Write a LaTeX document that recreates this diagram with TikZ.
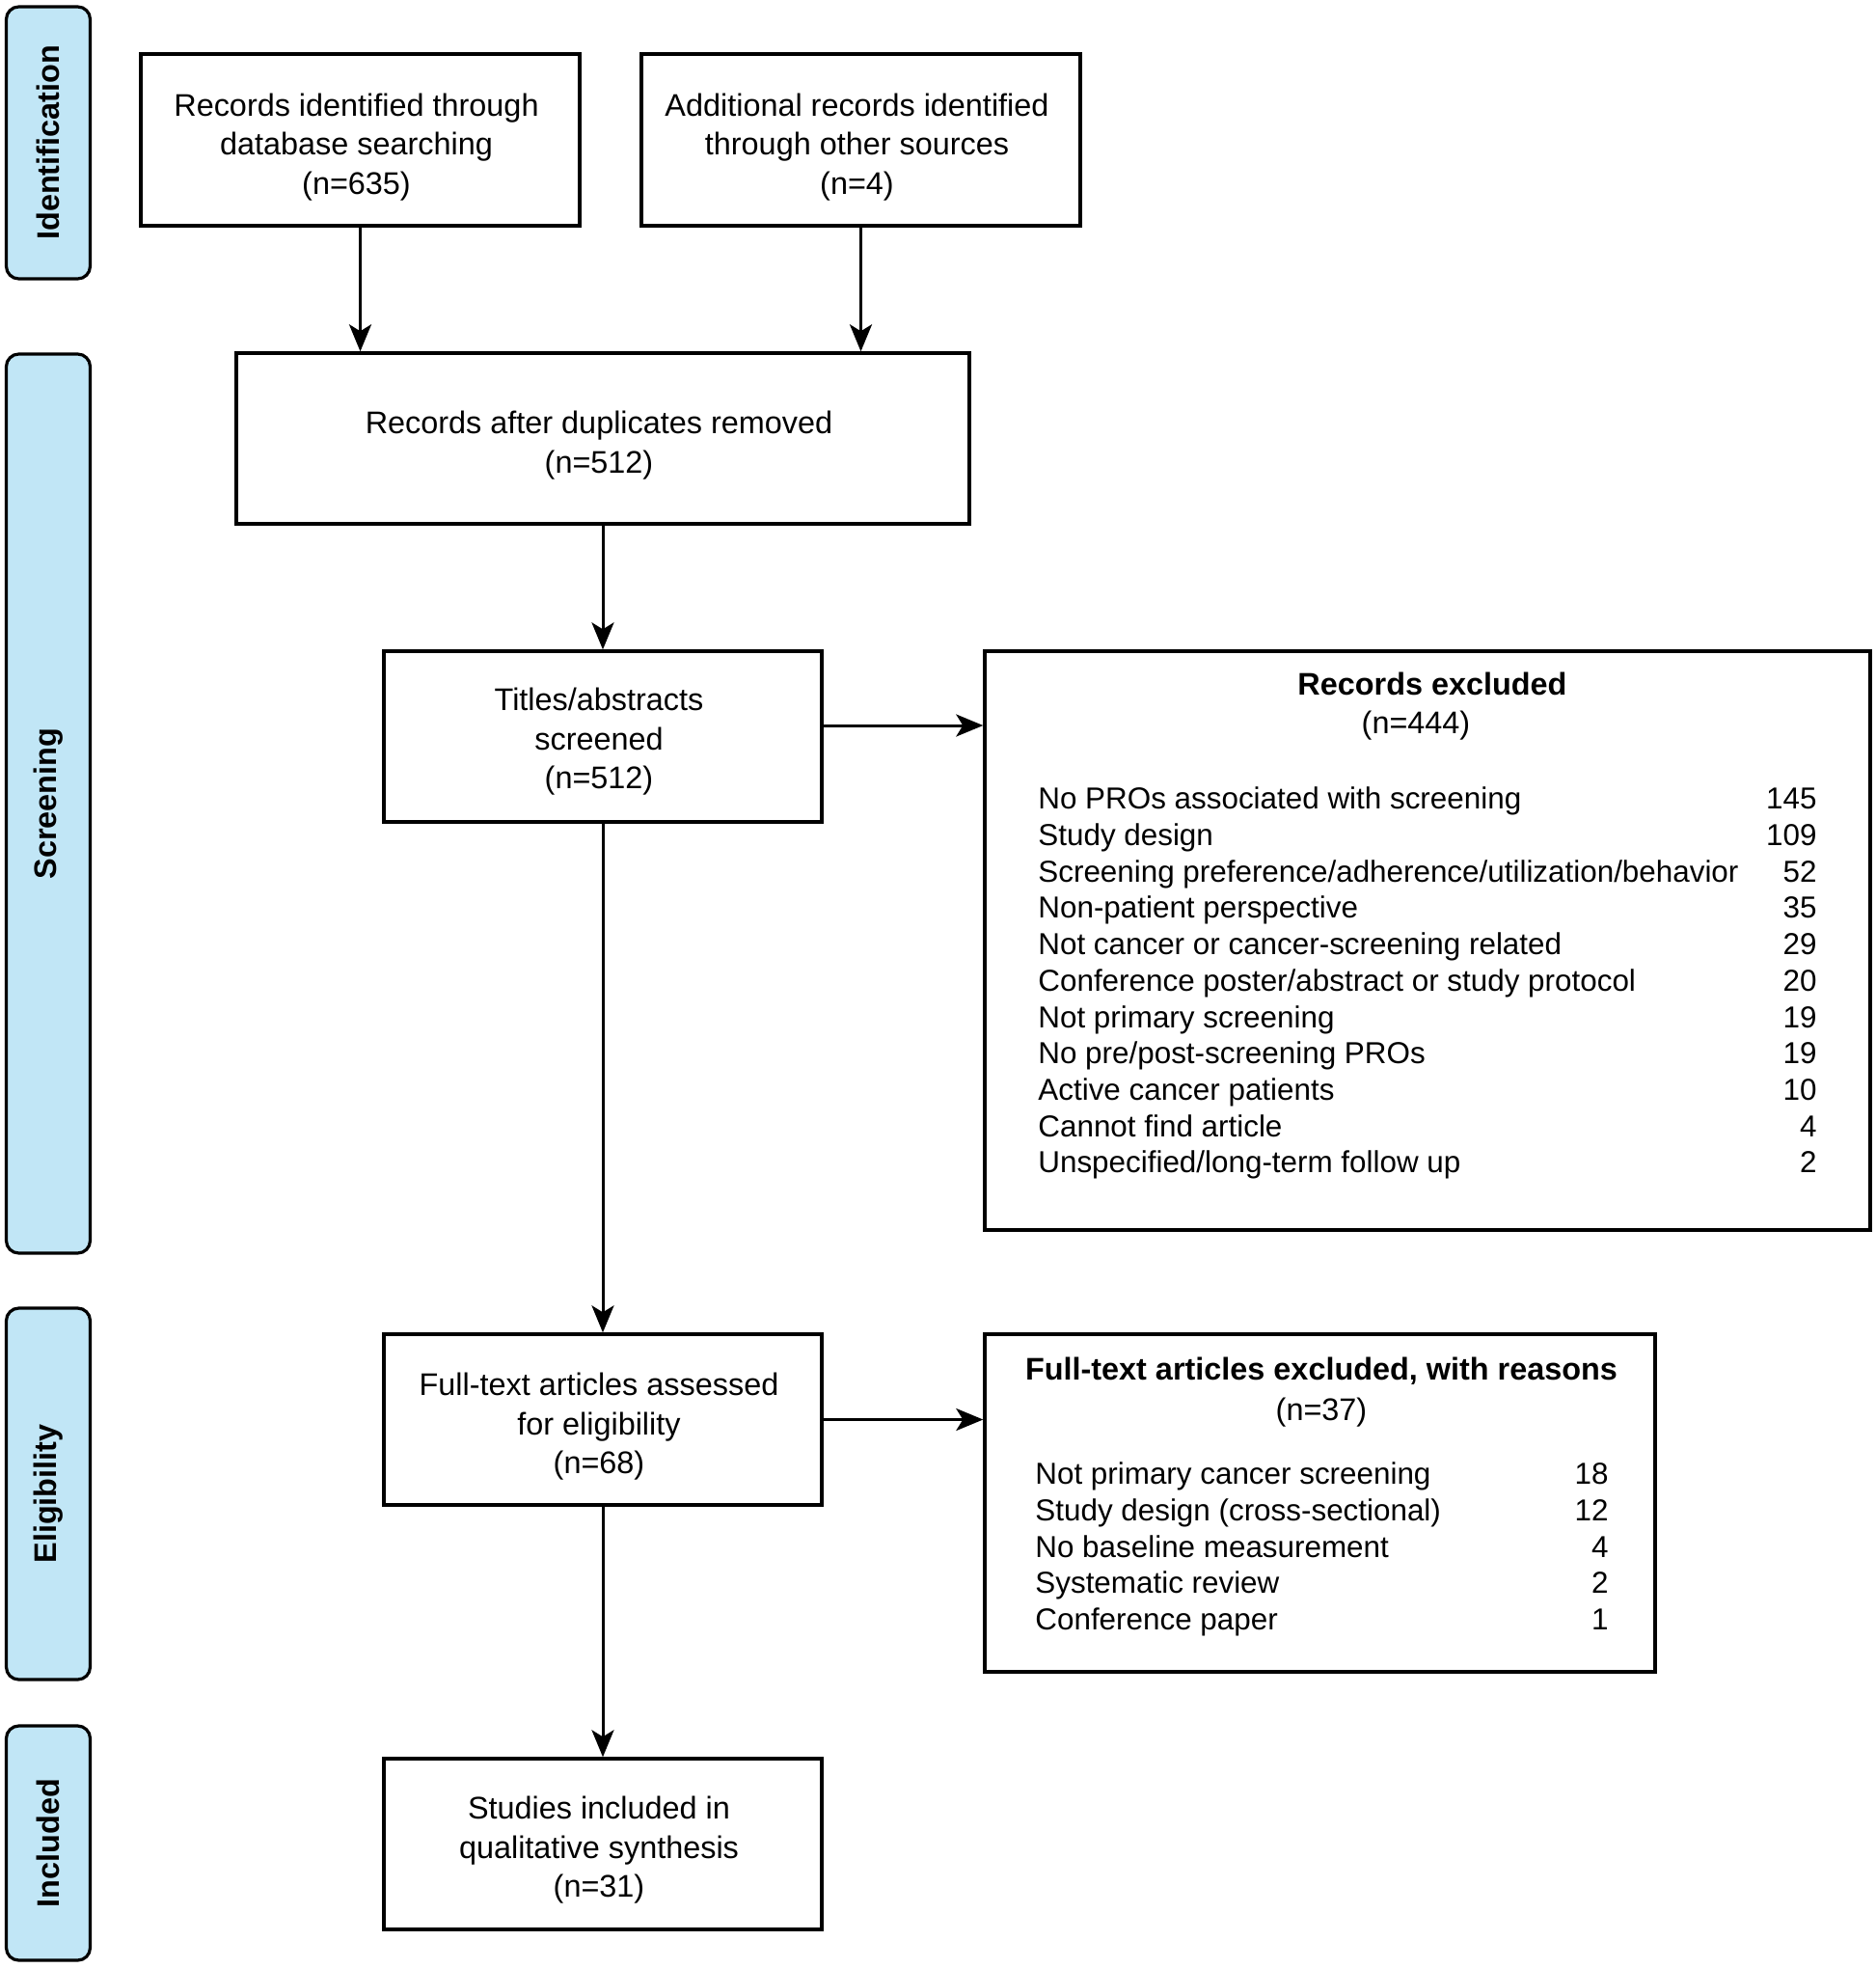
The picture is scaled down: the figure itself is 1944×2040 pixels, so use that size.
\documentclass[tikz,border=0pt]{standalone}
\usepackage{fontspec}
\setmainfont{Liberation Sans}
\usetikzlibrary{arrows.meta}
\definecolor{phaseblue}{RGB}{193,230,246}
\begin{document}
\begin{tikzpicture}[x=0.5pt,y=-0.5pt,
  frame/.style={draw=black, line width=1.7pt, inner sep=0pt},
  boxtext/.style={align=center, inner sep=0pt, font=\fontsize{16.2}{20.3}\selectfont},
  phase/.style={draw=black, line width=1.6pt, fill=phaseblue, rounded corners=6.5pt,
    rotate=90, minimum height=43.5pt, inner sep=0pt,
    font=\bfseries\fontsize{16.2}{20}\selectfont},
  item/.style={anchor=base west, inner sep=0pt, font=\fontsize{15.7}{18.85}\selectfont},
  num/.style={anchor=base east, inner sep=0pt, font=\fontsize{15.7}{18.85}\selectfont},
  ttl/.style={anchor=base, inner sep=0pt, font=\bfseries\fontsize{16.2}{20}\selectfont},
  sub/.style={anchor=base, inner sep=0pt, font=\fontsize{16.2}{20}\selectfont},
  arr/.style={-{Stealth[length=14pt,width=11.5pt,inset=3.5pt]}, line width=1.5pt}
]
\fill[white] (0,0) rectangle (1944,2040);
\useasboundingbox (0,0) rectangle (1944,2040);

% phase bars
\node[phase, minimum width=141pt] (pid) at (50,148) {Identification};
\node[phase, minimum width=466pt] (psc) at (50,833) {Screening};
\node[phase, minimum width=192.5pt] (pel) at (50,1548.5) {Eligibility};
\node[phase, minimum width=121.5pt] (pin) at (50,1910.5) {Included};

% boxes
\node[frame, minimum width=227.5pt, minimum height=89pt] (b1) at (373.5,145) {};
\node[frame, minimum width=227.5pt, minimum height=89pt] (b2) at (892.5,145) {};
\node[frame, minimum width=380pt, minimum height=88.5pt] (b3) at (625,454.5) {};
\node[frame, minimum width=227pt, minimum height=88.5pt] (b4) at (625,763.5) {};
\node[frame, minimum width=459pt, minimum height=300pt] (b5) at (1480,975) {};
\node[frame, minimum width=227pt, minimum height=88.5pt] (b6) at (625,1471.5) {};
\node[frame, minimum width=347.5pt, minimum height=175pt] (b7) at (1368.5,1558) {};
\node[frame, minimum width=227pt, minimum height=88.5pt] (b8) at (625,1911.5) {};

% box texts
\node[boxtext] (b1t) at ([xshift=-2pt,yshift=-3.8pt]b1.center)
  {Records identified through\\database searching\\(n=635)};
\node[boxtext] (b2t) at ([xshift=-2pt,yshift=-3.8pt]b2.center)
  {Additional records identified\\through other sources\\(n=4)};
\node[boxtext] (b3t) at ([xshift=-2pt,yshift=-3.6pt]b3.center)
  {Records after duplicates removed\\(n=512)};
\node[boxtext] (b4t) at ([xshift=-2pt,yshift=-2.6pt]b4.center)
  {Titles/abstracts\\screened\\(n=512)};
\node[boxtext] (b6t) at ([xshift=-2pt,yshift=-3.6pt]b6.center)
  {Full-text articles assessed\\for eligibility\\(n=68)};
\node[boxtext] (b8t) at ([xshift=-2pt,yshift=-3.2pt]b8.center)
  {Studies included in\\qualitative synthesis\\(n=31)};

% records excluded content
\node[ttl] (t5) at (1485,720) {Records excluded};
\node[sub] (n5) at (1468,760) {(n=444)};
\node[item] (r1) at (1076,838.6) {No PROs associated with screening};
\node[num] (v1) at (1884,838.6) {145};
\node[item] (r2) at (1076,876.3) {Study design};
\node[num] (v2) at (1884,876.3) {109};
\node[item] (r3) at (1076,914.1) {Screening preference/adherence/utilization/behavior};
\node[num] (v3) at (1884,914.1) {52};
\node[item] (r4) at (1076,951.8) {Non-patient perspective};
\node[num] (v4) at (1884,951.8) {35};
\node[item] (r5) at (1076,989.5) {Not cancer or cancer-screening related};
\node[num] (v5) at (1884,989.5) {29};
\node[item] (r6) at (1076,1027.3) {Conference poster/abstract or study protocol};
\node[num] (v6) at (1884,1027.3) {20};
\node[item] (r7) at (1076,1065.0) {Not primary screening};
\node[num] (v7) at (1884,1065.0) {19};
\node[item] (r8) at (1076,1102.7) {No pre/post-screening PROs};
\node[num] (v8) at (1884,1102.7) {19};
\node[item] (r9) at (1076,1140.4) {Active cancer patients};
\node[num] (v9) at (1884,1140.4) {10};
\node[item] (r10) at (1076,1178.2) {Cannot find article};
\node[num] (v10) at (1884,1178.2) {4};
\node[item] (r11) at (1076,1215.9) {Unspecified/long-term follow up};
\node[num] (v11) at (1884,1215.9) {2};

% full-text excluded content
\node[ttl] (t7) at (1370,1430.6) {Full-text articles excluded, with reasons};
\node[sub] (n7) at (1370,1472) {(n=37)};
\node[item] (f1) at (1073,1538.6) {Not primary cancer screening};
\node[num] (w1) at (1668,1538.6) {18};
\node[item] (f2) at (1073,1576.3) {Study design (cross-sectional)};
\node[num] (w2) at (1668,1576.3) {12};
\node[item] (f3) at (1073,1614.1) {No baseline measurement};
\node[num] (w3) at (1668,1614.1) {4};
\node[item] (f4) at (1073,1651.8) {Systematic review};
\node[num] (w4) at (1668,1651.8) {2};
\node[item] (f5) at (1073,1689.5) {Conference paper};
\node[num] (w5) at (1668,1689.5) {1};

% connectors
\draw[arr] (b1.south) -- (b1.south |- b3.north);
\draw[arr] (b2.south) -- (b2.south |- b3.north);
\draw[arr] (b3.south) -- (b4.north);
\draw[arr] ([yshift=5.75pt]b4.east) -- ([yshift=5.75pt]b4.east -| b5.west);
\draw[arr] (b4.south) -- (b6.north);
\draw[arr] (b6.east) -- (b6.east -| b7.west);
\draw[arr] (b6.south) -- (b8.north);
\end{tikzpicture}
\end{document}
